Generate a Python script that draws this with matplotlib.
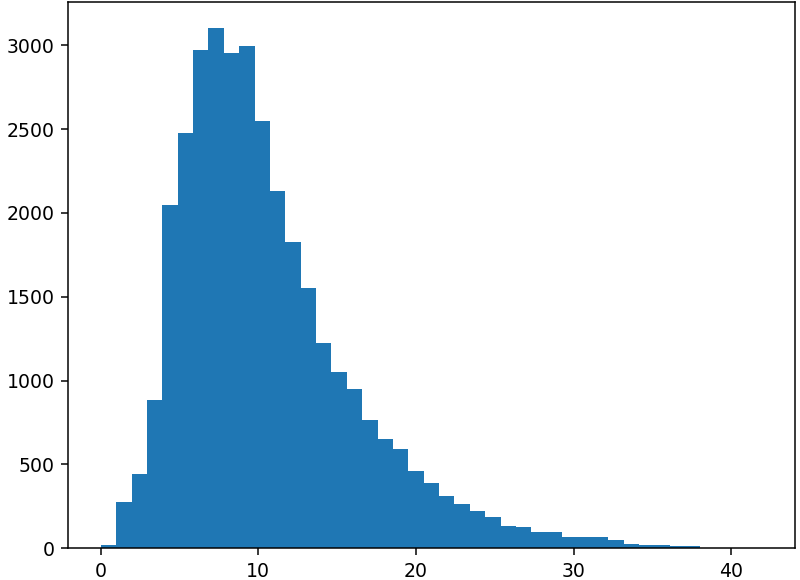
import numpy as np
import matplotlib
matplotlib.use("Agg")
import matplotlib.pyplot as plt

# Histogram data
x_min = 0.0
x_max = 41.95
n_bins = 43
counts = [18, 276, 444, 887, 2045, 2476, 2970, 3101, 2952, 2996,
          2548, 2133, 1829, 1554, 1226, 1051, 952, 768, 652, 591,
          458, 391, 309, 265, 222, 186, 135, 125, 99, 99,
          65, 65, 65, 48, 27, 21, 21, 12, 12, 4,
          2, 1, 1]
x_ticks = [0, 10, 20, 30, 40]
y_ticks = [0, 500, 1000, 1500, 2000, 2500, 3000]

edges = np.linspace(x_min, x_max, n_bins + 1)
centers = (edges[:-1] + edges[1:]) / 2

dpi = 136
fig = plt.figure(figsize=(800 / dpi, 580 / dpi), dpi=dpi)
ax = fig.add_axes([67.7 / 800, 1 - 548.3 / 580, (795 - 67.7) / 800, (548.3 - 2.3) / 580])
ax.hist(centers, bins=edges, weights=counts, color="#1f77b4")
ax.set_xticks(x_ticks)
ax.set_yticks(y_ticks)
fig.savefig("out.png", dpi=dpi)
